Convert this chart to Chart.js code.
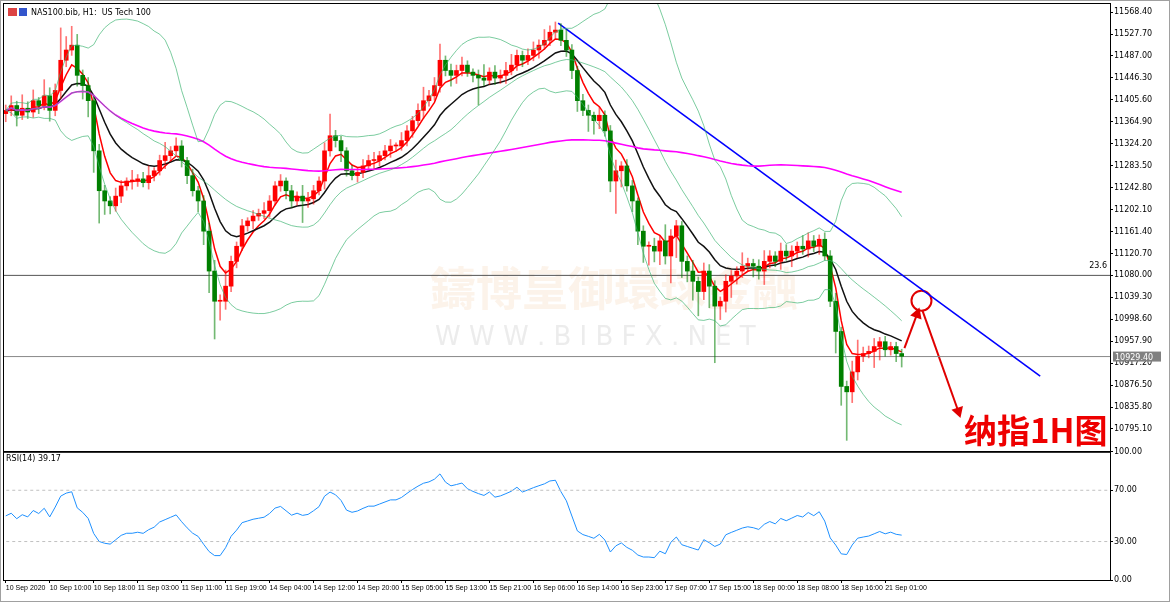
<!DOCTYPE html>
<html><head><meta charset="utf-8">
<script src="https://cdn.jsdelivr.net/npm/chart.js@4"></script>
<style>
html,body{margin:0;padding:0;background:#fff;width:1170px;height:602px;overflow:hidden;font-family:"DejaVu Sans",sans-serif}
#frame{position:absolute;left:0;top:0;width:1168px;height:600px;border:1px solid #a0a0a0}
.box{position:absolute;left:0;width:1170px}
#m{top:0;height:452px}#r{top:446px;height:156px}
</style></head><body>
<div id="frame"></div>
<div class="box" id="m"><canvas id="cm"></canvas></div>
<div class="box" id="r"><canvas id="cr"></canvas></div>
<script>
const closes=[11386,11395,11377,11390,11383,11404,11395,11413,11386,
11423,11479,11498,11507,11451,11432,11404,11311,11237,11218,
11209,11227,11246,11255,11255,11259,11252,11265,11274,11293,11302,11311,11320,
11293,11265,11237,11218,11162,11088,11032,11032,11060,11106,11134,11172,
11181,11190,11195,11200,11218,11246,11255,11237,11218,11227,11218,11222,11237,11255,
11311,11339,11330,11311,11274,11265,11271,11283,11293,11293,11302,11311,11320,11320,
11330,11348,11367,11386,11404,11413,11432,11479,11460,11451,11460,11470,11457,
11451,11446,11442,11457,11446,11451,11460,11470,11488,11479,11488,11498,11507,11516,11531,
11535,11516,11498,11460,11404,11386,11377,11367,11377,11348,11255,11274,11283,11246,11218,
11162,11134,11134,11125,11144,11116,11153,11172,11106,11088,11069,11050,11088,11060,11023,11032,
11069,11079,11088,11097,11102,11097,11088,11106,11116,11106,11125,11116,11125,11134,11129,11144,
11134,11147,11116,11032,10976,10874,10864,10901,10930,10935,10939,10948,10957,10942,10948,10935,10930];
const upWick=[10,18,8,25,12,20,6,30,15,12,60,25,35,20,10,15,8,12,10,8,15,10,6,20,8,12,18,6,10,25,8,15,
10,6,12,8,10,15,20,12,30,10,8,12,6,10,8,15,10,8,12,6,10,8,20,12,10,8,15,40,10,8,6,10,8,12,10,15,8,10,12,6,
15,10,8,12,25,10,15,30,8,12,10,15,8,6,10,25,8,12,10,15,20,10,8,12,15,10,20,12,
15,12,20,10,8,12,10,6,15,8,10,20,8,12,10,6,10,8,15,10,30,12,10,8,10,20,8,15,12,10,
8,12,10,8,25,10,8,12,20,10,8,15,12,10,8,20,15,10,8,12,10,15,8,10,20,30,12,10,15,8,10,8];
const dnWick=[15,10,20,8,12,10,15,8,20,10,15,12,10,20,25,30,40,60,25,15,10,12,8,15,10,8,12,10,8,15,10,8,
12,15,10,20,25,40,70,35,15,10,12,8,10,15,8,10,12,8,10,15,12,8,40,12,10,8,15,10,12,20,10,8,12,10,8,15,10,8,12,10,
8,10,12,8,15,10,8,12,10,20,15,10,8,12,50,10,8,12,10,15,8,10,12,8,10,15,8,10,12,10,
12,15,20,10,30,25,15,10,20,60,30,10,20,25,30,35,20,25,15,50,40,30,20,35,45,15,40,105,25,20,
30,15,12,10,20,15,25,12,10,15,8,20,12,10,15,10,15,8,10,40,35,90,20,15,10,8,30,25,12,10,15,20];
const timeLabels=["10 Sep 2020","10 Sep 10:00","10 Sep 18:00","11 Sep 03:00","11 Sep 11:00","11 Sep 19:00","14 Sep 04:00","14 Sep 12:00","14 Sep 20:00","15 Sep 05:00","15 Sep 13:00","15 Sep 21:00","16 Sep 06:00","16 Sep 14:00","16 Sep 23:00","17 Sep 07:00","17 Sep 15:00","18 Sep 00:00","18 Sep 08:00","18 Sep 16:00","21 Sep 01:00"];
const priceTicks=[11568.40,11527.70,11487.00,11446.30,11405.60,11364.90,11324.20,11283.50,11242.80,11202.10,11161.40,11120.70,11080.00,11039.30,10998.60,10957.90,10917.20,10876.50,10835.80,10795.10];
const rsiTicks=[0,30,70,100];
const trendLine=[{x:100.5,y:11548},{x:188.2,y:10893}];
const fibLevel=11080.0, lastPrice=10929.40;
const circlePt=[{x:166.6,y:11033}];
const arrowUp=[{x:163.5,y:10945},{x:165.8,y:11008}];
const arrowDown=[{x:166.8,y:11014},{x:173.3,y:10828}];

const N=closes.length, XMAX=200.9;
const opens=closes.map((c,i)=>i?closes[i-1]:11380);
const highs=closes.map((c,i)=>Math.max(c,opens[i])+(upWick[i]||8));
const lows=closes.map((c,i)=>Math.min(c,opens[i])-(dnWick[i]||10));
function ema(p){let k=2/(p+1),e=closes[0];return closes.map(c=>e=c*k+e*(1-k));}
function sma(p){return closes.map((c,i)=>{let s=closes.slice(Math.max(0,i-p+1),i+1);return s.reduce((a,b)=>a+b,0)/s.length;});}
const m20=sma(20);
const sd20=closes.map((c,i)=>{let s=closes.slice(Math.max(0,i-19),i+1);let m=m20[i];return Math.sqrt(s.reduce((a,b)=>a+(b-m)*(b-m),0)/s.length);});
const pts=a=>a.map((v,i)=>({x:i,y:v}));
const upC='#ff0000',dnC='#008000';
const col=closes.map((c,i)=>c>=opens[i]?upC:dnC);
const wcol=closes.map((c,i)=>c>=opens[i]?'rgba(255,0,0,0.55)':'rgba(0,128,0,0.55)');
function line(data,color,w,extra){return Object.assign({type:'line',data,borderColor:color,borderWidth:w,pointRadius:0,fill:false,tension:0},extra||{});}
const mainDs=[
 line(closes.map((c,i)=>({x:i,y:m20[i]+2*sd20[i]})),'rgba(60,179,113,0.85)',0.8),
 line(pts(m20),'rgba(60,179,113,0.85)',0.8),
 line(closes.map((c,i)=>({x:i,y:m20[i]-2*sd20[i]})),'rgba(60,179,113,0.85)',0.8),
 line(pts(sma(100)),'#ff00ff',1.6),
 {type:'bar',data:closes.map((c,i)=>({x:i,y:[lows[i],highs[i]]})),backgroundColor:wcol,barThickness:1,grouped:false},
 {type:'bar',data:closes.map((c,i)=>({x:i,y:[opens[i],c]})),backgroundColor:col,barThickness:4,minBarLength:1,grouped:false},
 line(pts(ema(13)),'#111',1.5),
 line(pts(ema(5)),'#ff0000',1.5),
 line(trendLine,'#0000ff',1.6),
 line([{x:-1,y:fibLevel},{x:XMAX,y:fibLevel}],'#555',1),
 line([{x:-1,y:lastPrice},{x:XMAX,y:lastPrice}],'#888',1),
 line(arrowUp,'#e00000',2,{pointRadius:[0,5],pointStyle:'triangle',rotation:[0,20],pointBackgroundColor:'#e00000'}),
 line(arrowDown,'#e00000',2,{pointRadius:[0,5],pointStyle:'triangle',rotation:[0,162],pointBackgroundColor:'#e00000'}),
 {type:'scatter',data:circlePt,pointRadius:10,borderColor:'#e00000',borderWidth:2,backgroundColor:'rgba(0,0,0,0)'}
];
const deco={id:'deco',beforeDatasetsDraw(c){const x=c.ctx;x.save();
 x.fillStyle='rgba(240,200,160,0.22)';x.font='bold 46px "Noto Sans CJK SC"';x.fillText('鑄博皇御環球金融',430,305);
 x.fillStyle='rgba(200,200,200,0.35)';x.font='26px "DejaVu Sans"';x.fillText('W W W . B I B F X . N E T',435,345);x.restore();},
 afterDraw(c){const x=c.ctx,a=c.chartArea;x.save();
 x.strokeStyle='#000';x.lineWidth=1;x.strokeRect(a.left+0.5,a.top+0.5,a.right-a.left,a.bottom-a.top-1);
 x.font='8px "DejaVu Sans"';x.fillStyle='#000';x.fillText('NAS100.bib, H1:  US Tech 100',31,15);
 x.fillStyle='#d44';x.fillRect(8,8,9,8);x.fillStyle='#35c';x.fillRect(19,8,8,8);
 x.fillStyle='#000';x.textAlign='right';x.fillText('23.6',1107,268);
 const y=c.scales.y.getPixelForValue(lastPrice);x.fillStyle='#808080';x.fillRect(1113,y-5,48,10);
 x.fillStyle='#fff';x.textAlign='left';x.fillText(lastPrice.toFixed(2),1115,y+3);
 x.fillStyle='#ee0000';x.font='bold 33px "Noto Sans CJK SC"';x.fillText('纳指1H图',964,443);x.restore();}};
new Chart(document.getElementById('cm'),{type:'bar',data:{datasets:mainDs},plugins:[deco],
 options:{responsive:true,maintainAspectRatio:false,animation:false,layout:{autoPadding:false,padding:{left:3,top:3,right:0,bottom:-1}},
 plugins:{legend:{display:false},tooltip:{enabled:false}},
 scales:{x:{type:'linear',min:-0.5,max:XMAX,offset:false,display:false},
  y:{position:'right',min:10752.4,max:11585.2,afterFit(s){s.width=60;s.paddingTop=0;s.paddingBottom=0;},afterBuildTicks(s){s.ticks=priceTicks.map(v=>({value:v}));},
   grid:{drawOnChartArea:false,tickLength:3,color:'#000'},border:{color:'#000'},
   ticks:{font:{size:8,family:'DejaVu Sans'},color:'#000',padding:1,callback:v=>v.toFixed(2)}}}}});

// RSI
const rsi=[];{let ag=8,al=8;for(let i=0;i<N;i++){if(i===0){rsi.push(50);continue;}const d=closes[i]-closes[i-1];const g=Math.max(d,0),l=Math.max(-d,0);
 ag=(ag*13+g)/14;al=(al*13+l)/14;rsi.push(al===0?100:100-100/(1+ag/al));}}
const rdeco={id:'rdeco',afterDraw(c){const x=c.ctx,a=c.chartArea;x.save();
 x.strokeStyle='#000';x.strokeRect(a.left+0.5,a.top+0.5,a.right-a.left,a.bottom-a.top);
 x.font='8px "DejaVu Sans"';x.fillStyle='#000';x.fillText('RSI(14) 39.17',6,a.top+9);x.restore();}};
new Chart(document.getElementById('cr'),{type:'line',plugins:[rdeco],
 data:{datasets:[
  line([{x:-1,y:70},{x:XMAX,y:70}],'#c0c0c0',1,{borderDash:[3,3]}),
  line([{x:-1,y:30},{x:XMAX,y:30}],'#c0c0c0',1,{borderDash:[3,3]}),
  line(pts(rsi),'#1e90ff',1)]},
 options:{responsive:true,maintainAspectRatio:false,animation:false,layout:{autoPadding:false,padding:{left:3,top:0,right:0,bottom:0}},
 plugins:{legend:{display:false},tooltip:{enabled:false}},
 scales:{x:{type:'linear',min:-0.5,max:XMAX,afterFit(s){s.height=22;},afterBuildTicks(s){s.ticks=timeLabels.map((t,k)=>({value:k*8}));},
   grid:{drawOnChartArea:false,tickLength:3,color:'#000'},border:{color:'#000'},
   ticks:{font:{size:7,family:'Liberation Sans Narrow, Liberation Sans'},color:'#000',align:'start',maxRotation:0,autoSkip:false,padding:1,callback:(v)=>timeLabels[Math.round(v/8)]}},
  y:{position:'right',min:0,max:100,afterFit(s){s.width=60;},afterBuildTicks(s){s.ticks=rsiTicks.map(v=>({value:v}));},
   grid:{drawOnChartArea:false,tickLength:3,color:'#000'},border:{color:'#000'},
   ticks:{font:{size:8,family:'DejaVu Sans'},color:'#000',padding:1,callback:v=>v.toFixed(2)}}}}});
</script></body></html>
